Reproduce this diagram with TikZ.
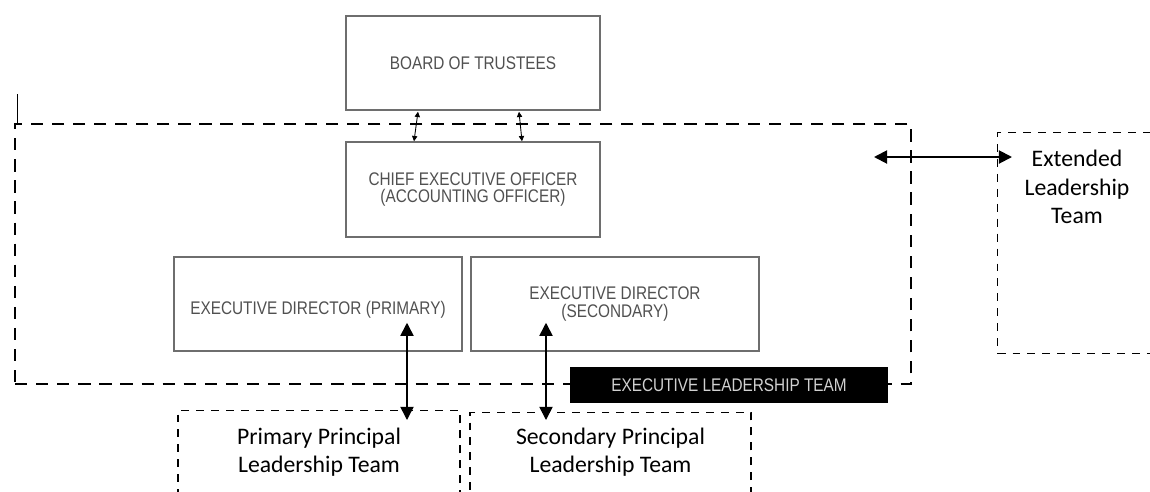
\documentclass[tikz,border=0pt]{standalone}
\usepackage{fontspec}
\setmainfont{Carlito}
\newfontfamily\orgfont[FakeStretch=0.84]{Liberation Sans}
\usetikzlibrary{arrows.meta}

\definecolor{boxgray}{HTML}{6E6E6E}
\definecolor{textgray}{HTML}{505050}

\tikzset{
  orgbox/.style={draw=boxgray, line width=0.85pt, align=center, inner sep=0pt,
    text=textgray, font=\orgfont\fontsize{10.4}{10.2}\selectfont},
  teambox/.style={draw, line width=0.7pt, dash pattern=on 4.5pt off 4pt, inner sep=0pt},
  teamtext/.style={align=center, font=\fontsize{13.5}{16.2}\selectfont},
  arr/.style={{Triangle[length=7.5pt,width=7.5pt]}-{Triangle[length=7.5pt,width=7.5pt]}, line width=0.9pt},
  smallarr/.style={{Triangle[length=3pt,width=3pt]}-{Triangle[length=3pt,width=3pt]}, line width=0.5pt},
}

\begin{document}
\begin{tikzpicture}[x=0.02cm, y=-0.02cm]
% one unit is one pixel of the original chart
\def\px{0.02cm}
\useasboundingbox (0,0) rectangle (1150,491);
\clip (0,0) rectangle (1150,491);

% Executive leadership frame
\node[draw, line width=1.6pt, dash pattern=on 7pt off 5pt, minimum width=896*\px, minimum height=260*\px] (eltbox) at (463,254) {};
\draw[line width=0.8pt] ([xshift=4*\px]eltbox.north west) -- ++(0,-29);

% Boxes of the chart
\node[orgbox, minimum width=254*\px, minimum height=94*\px] (board) at (473,63) {BOARD OF TRUSTEES};
\node[orgbox, minimum width=254*\px, minimum height=95*\px] (ceo) at (473,189.5) {CHIEF EXECUTIVE OFFICER\\(ACCOUNTING OFFICER)};
\node[orgbox, minimum width=288*\px, minimum height=94*\px, text height=24*\px] (edp) at (318,304) {EXECUTIVE DIRECTOR (PRIMARY)};
\node[orgbox, minimum width=288*\px, minimum height=94*\px] (eds) at (615,304) {EXECUTIVE DIRECTOR\\(SECONDARY)};
\node[fill=black, minimum width=318*\px, minimum height=36*\px, inner sep=0pt, text=black!18,
  font=\orgfont\fontsize{10.4}{10.4}\selectfont] (elt) at (729,385) {EXECUTIVE LEADERSHIP TEAM};

% Teams outside the frame
\node[teambox, anchor=north west, minimum width=175*\px, minimum height=221*\px] (extbox) at (997,132) {};
\node[teamtext] (ext) at (1077,187) {Extended\\Leadership\\Team};
\node[teambox, teamtext, anchor=north, minimum width=282*\px, inner ysep=17*\px, text depth=70*\px] (ppt) at (319,410) {Primary Principal\\Leadership Team};
\node[teambox, teamtext, anchor=north, minimum width=281*\px, inner ysep=15*\px, text depth=70*\px] (spt) at (610.5,412) {Secondary Principal\\Leadership Team};

% Links
\draw[smallarr] ([xshift=-55*\px, yshift=-1*\px]board.south) -- ([xshift=-59*\px]ceo.north);
\draw[smallarr] ([xshift=46*\px, yshift=-1*\px]board.south) -- ([xshift=49*\px]ceo.north);
\coordinate (extend) at (874,157);
\draw[arr, line width=1.1pt] (extend) -- ([xshift=15*\px]extbox.west |- extend);
\draw[arr] ([xshift=89*\px, yshift=29*\px]edp.south) -- ([xshift=88*\px, yshift=-10*\px]ppt.north);
\draw[arr] ([xshift=-69*\px, yshift=29*\px]eds.south) -- ([xshift=-64.5*\px, yshift=-8*\px]spt.north);
\end{tikzpicture}
\end{document}
